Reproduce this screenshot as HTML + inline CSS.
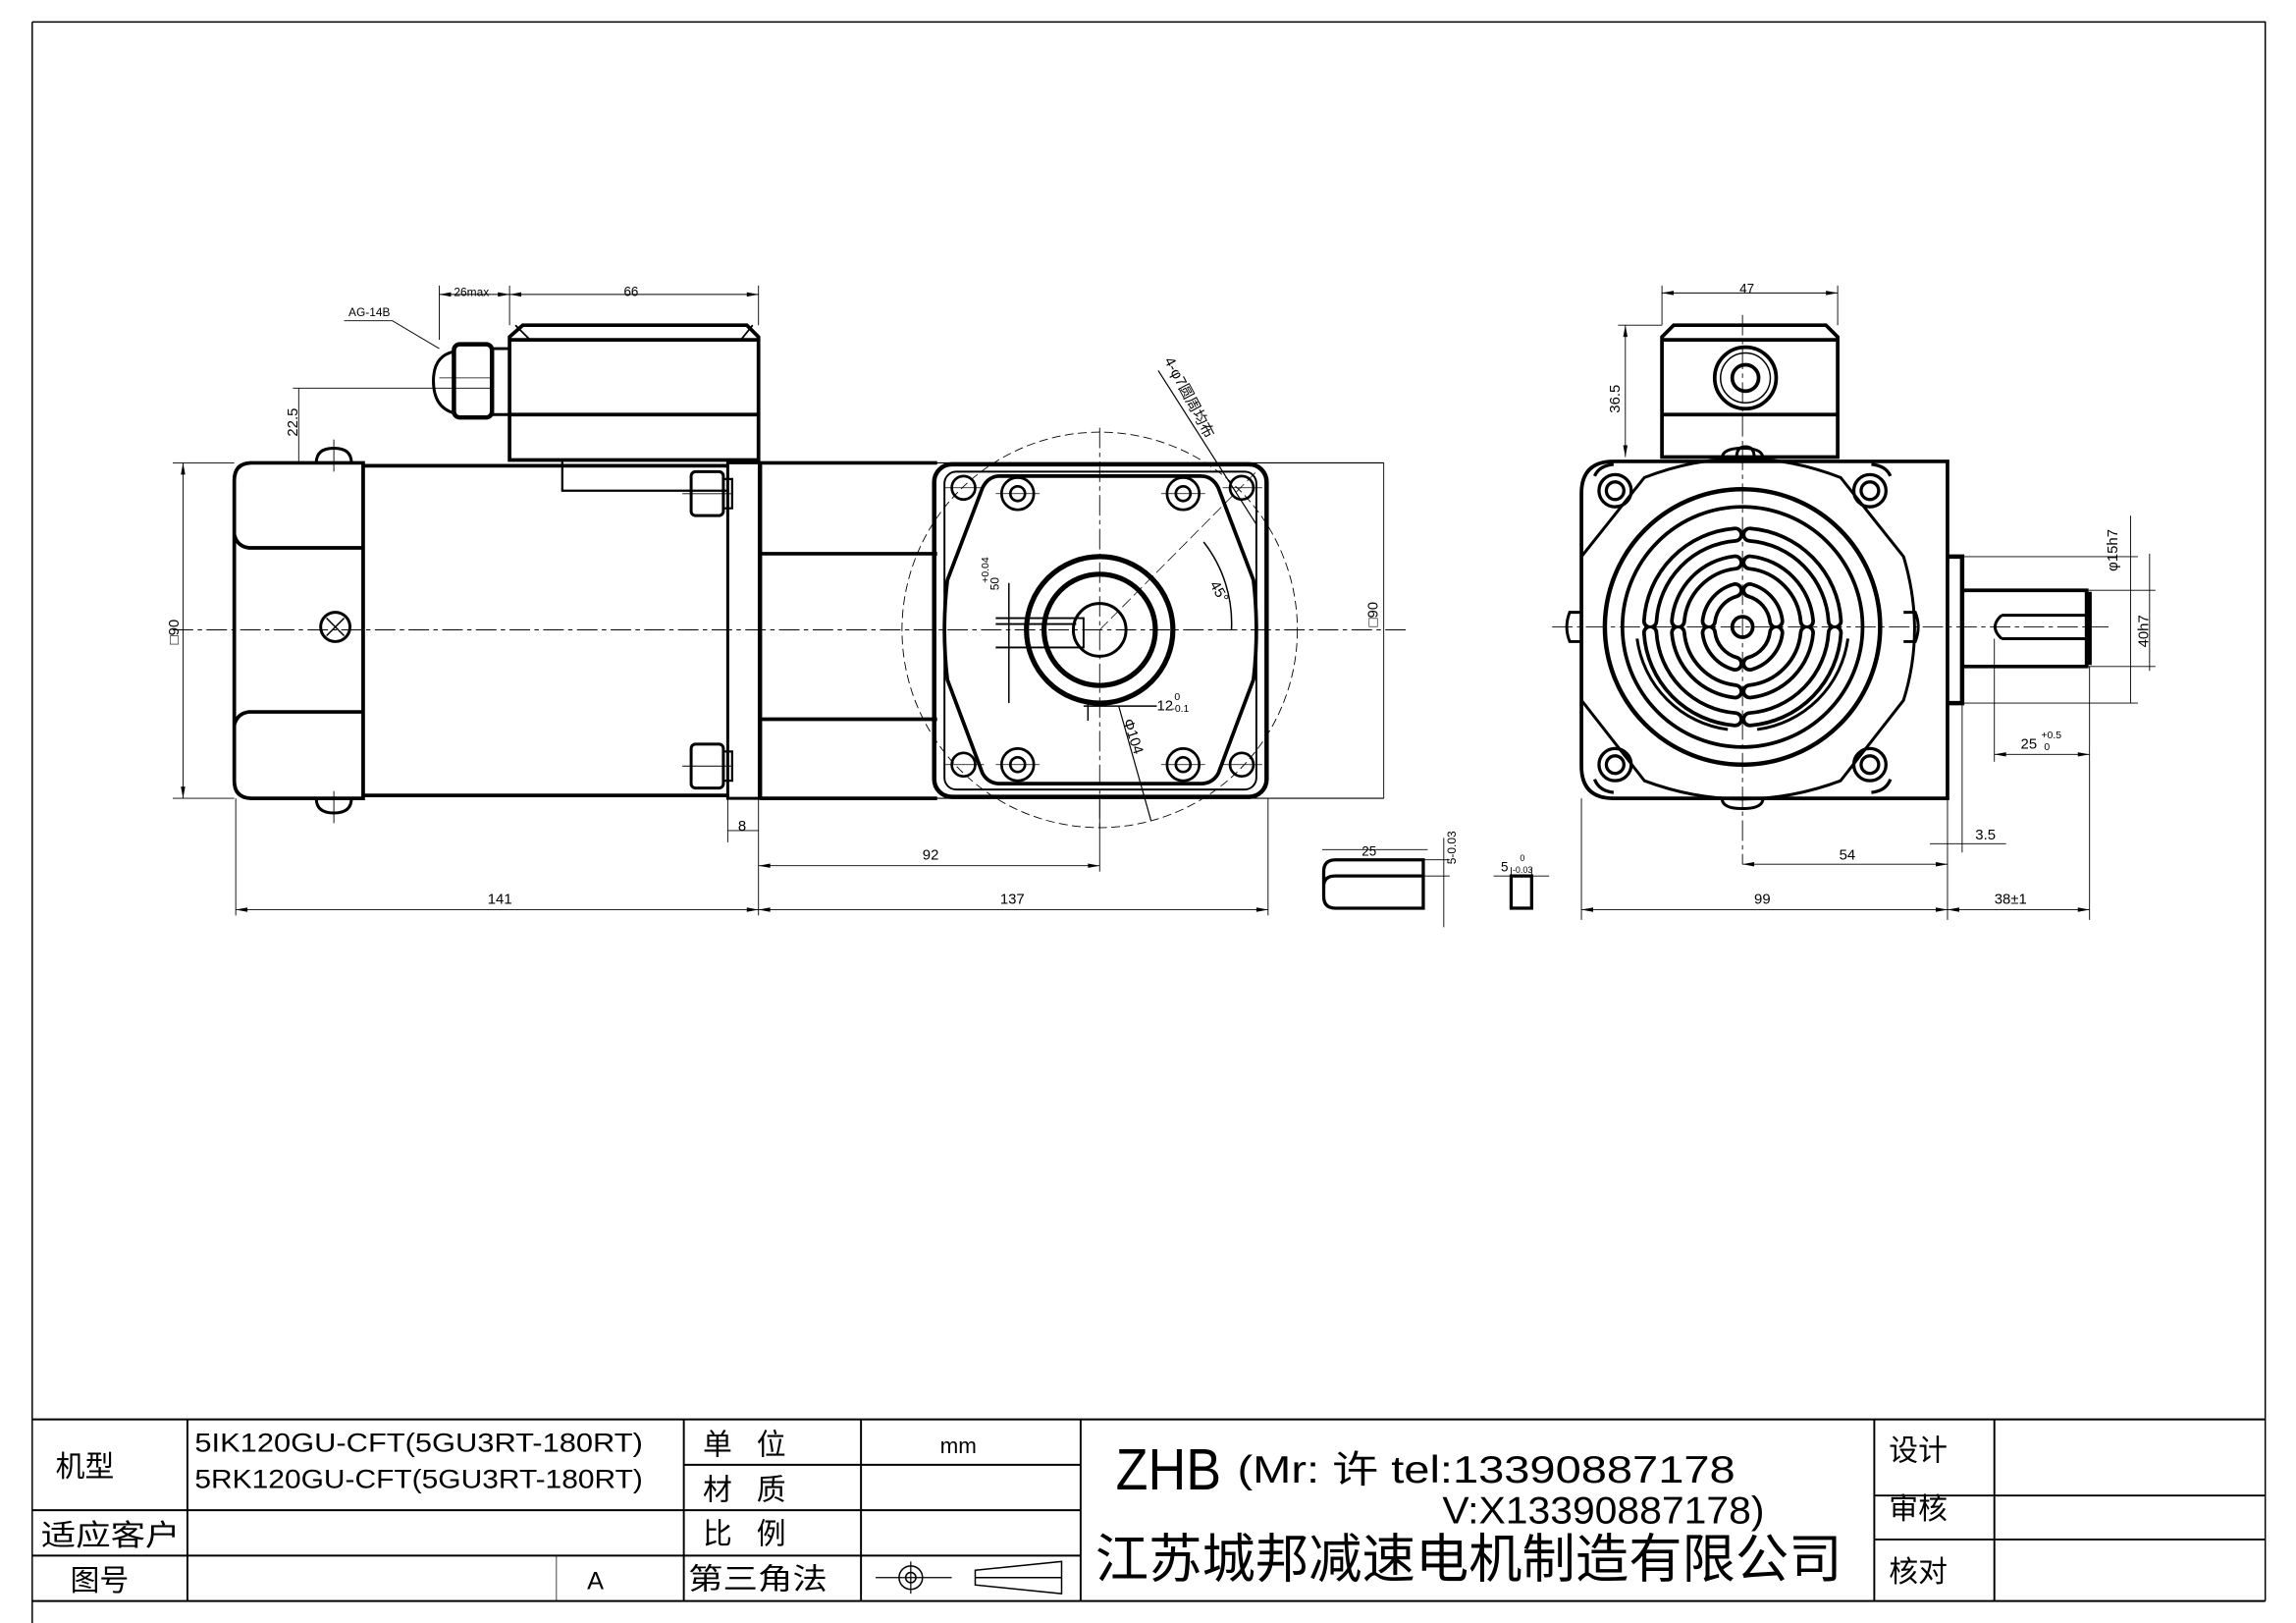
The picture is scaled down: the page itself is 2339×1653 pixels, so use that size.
<!DOCTYPE html>
<html><head><meta charset="utf-8"><style>
html,body{margin:0;padding:0;background:#fff}
svg{display:block}
text{font-family:"Liberation Sans","Noto Sans CJK SC",sans-serif;fill:#000}
</style></head><body>
<svg width="2339" height="1653" viewBox="0 0 1568 1108" preserveAspectRatio="none" xmlns="http://www.w3.org/2000/svg">
<g fill="none" stroke="#000">
<!-- frame -->
<path d="M22 15 H1547 V1093 M22 15 V1108" stroke-width="1"/>
<!-- title block -->
<g stroke-width="1.3">
<path d="M22 969 H1547 M22 1093 H1547"/>
<path d="M128 969 V1093 M467 969 V1093 M588 969 V1093 M738 969 V1093 M1280 969 V1093 M1362 969 V1093"/>
<path d="M467 1000 H738 M22 1031 H738 M22 1062 H738 M1280 1021 H1547 M1280 1051 H1547"/>
<path d="M380 1062 V1093" stroke-width="0.5"/>
</g>
<circle cx="622" cy="1077" r="8" stroke-width="1"/><circle cx="622" cy="1077" r="3.5" stroke-width="1"/>
<path d="M598 1077 H650 M622 1066 V1088" stroke-width="0.8"/>
<path d="M666 1072 L725 1066 V1088 L666 1082 Z M666 1077 H725" stroke-width="1"/>

<!-- ===== LEFT VIEW ===== -->
<path d="M118 430 H960" stroke-width="0.6" stroke-dasharray="14 3 3 3"/>
<!-- rear cover -->
<path d="M172 316 H248 V545 H172 Q160 545 160 533 V328 Q160 316 172 316 Z" stroke-width="2.5"/>
<path d="M160 365 Q162 373 170 374 H248 M160 495 Q162 487 170 486 H248" stroke-width="2.5"/>
<circle cx="229" cy="428" r="10" stroke-width="2"/>
<path d="M223 422 L235 434 M235 422 L223 434" stroke-width="1"/>
<path d="M216 316 Q216 306 228 306 Q240 306 240 316 Z M216 545 Q216 555 228 555 Q240 555 240 545 Z" stroke-width="2"/>
<path d="M228 300 V322 M228 540 V562" stroke-width="0.6"/>
<!-- body -->
<path d="M248 318 H497 M248 543 H497" stroke-width="2.5"/>
<path d="M384 314 V335 H497" stroke-width="1.5"/>
<rect x="472" y="322" width="22" height="30" rx="3" stroke-width="2"/>
<rect x="472" y="508" width="22" height="30" rx="3" stroke-width="2"/>
<path d="M494 327 H500 V347 H494 M494 513 H500 V533 H494" stroke-width="1.5"/>
<path d="M466 337 H500 M466 523 H500" stroke-width="0.6"/>
<!-- flange plate -->
<path d="M497 316 H519 V545 H497 Z" stroke-width="2"/>
<path d="M519 316 V545" stroke-width="3"/>
<!-- gearbox side -->
<path d="M519 316 H945 M519 545 H945" stroke-width="0.8"/>
<path d="M519 316 H640 M519 545 H640 M519 378 H640 M519 491 H640" stroke-width="2.5"/>
<!-- gearbox face -->
<rect x="638" y="317" width="227" height="227" rx="12" stroke-width="3"/>
<rect x="645" y="322" width="213" height="217" rx="8" stroke-width="1.3"/>
<path d="M683 325 H820 Q828 325 832 333 L856 396 Q860 430 856 464 L832 528 Q828 535 820 535 H683 Q675 535 671 528 L647 464 Q643 430 647 396 L671 333 Q675 325 683 325 Z" stroke-width="2.5"/>
<circle cx="751" cy="430" r="135" stroke-width="0.6" stroke-dasharray="6 3"/>
<path d="M751 292 V568" stroke-width="0.6" stroke-dasharray="14 3 3 3"/>
<circle cx="751" cy="430" r="50" stroke-width="3.5"/>
<circle cx="751" cy="430" r="38" stroke-width="3.5"/>
<circle cx="751" cy="430" r="18" stroke-width="2"/>
<path d="M680 422 H740 V442 H680 M680 426 H735" stroke-width="1.3"/>
<path d="M689 398 V480" stroke-width="1"/>
<g stroke-width="1.8">
<circle cx="658" cy="333" r="8"/><circle cx="848" cy="333" r="8"/><circle cx="658" cy="522" r="8"/><circle cx="848" cy="522" r="8"/>
<circle cx="695" cy="337" r="11"/><circle cx="808" cy="337" r="11"/><circle cx="695" cy="522" r="11"/><circle cx="808" cy="522" r="11"/>
<circle cx="695" cy="337" r="5"/><circle cx="808" cy="337" r="5"/><circle cx="695" cy="522" r="5"/><circle cx="808" cy="522" r="5"/>
</g>
<path d="M645 333 H672 M835 333 H862 M645 522 H672 M835 522 H862 M680 337 H710 M793 337 H823 M680 522 H710 M793 522 H823" stroke-width="0.5"/>
<path d="M751 430 L860 320" stroke-width="0.5" stroke-dasharray="8 3"/>
<path d="M822 370 A90 90 0 0 1 841 430" stroke-width="1"/>
<path d="M791 253 L858 358" stroke-width="0.8"/>
<path d="M740 482 H790 M743 478 V492" stroke-width="1"/>
<path d="M764 482 L786 560" stroke-width="0.8"/>
<!-- terminal box left -->
<path d="M348 314 V230 L357 222 H510 L518 230 V314 Z M348 283 H518 M348 232 H518" stroke-width="2.5"/>
<path d="M352 222 L362 232 M514 222 L506 232" stroke-width="1.2"/>
<path d="M336 238 H348 V283 H336 Z" stroke-width="2"/>
<rect x="310" y="235" width="26" height="50" rx="4" stroke-width="3"/>
<path d="M310 240 Q296 243 296 260 Q296 278 310 282" stroke-width="2"/>
<path d="M300 258 H336" stroke-width="0.5"/>
<!-- dimensions left -->
<g stroke-width="0.6">
<path d="M161 545 V625 M518 545 V625 M866 545 V625 M161 621 H866"/>
<path d="M751 545 V595 M518 591 H751"/>
<path d="M497 545 V575 M497 567 H518"/>
<path d="M300 195 V232 M348 195 V222 M518 195 V222 M300 201 H518"/>
<path d="M200 265 H335 M204 265 V316"/>
<path d="M118 316 H160 M118 545 H160 M125 316 V545"/>
<path d="M945 316 V545"/>
<path d="M235 219 H268 L300 238"/>
</g>
<!-- keys -->
<g stroke-width="2.2">
<path d="M912 587 H972 V620 H912 Q904 620 904 612 V595 Q904 587 912 587 Z M904 605 Q904 598 912 598 H972"/>
<rect x="1032" y="598" width="14" height="22"/>
</g>
<path d="M903 580 H975 M986 572 V633 M972 587 H990 M972 598 H990 M1030 598 H1048 M1032 592 V598 M1046 592 V598 M1020 598 H1032 M1046 598 H1058" stroke-width="0.6"/>

<!-- ===== RIGHT VIEW ===== -->
<path d="M1060 428 H1440 M1190 215 V590" stroke-width="0.6" stroke-dasharray="14 3 3 3"/>
<path d="M1102 315 H1330 V545 H1102 Q1080 545 1080 523 V337 Q1080 315 1102 315 Z" stroke-width="2.5"/>
<path d="M1080 380 L1123 326 Q1190 300 1257 326 L1300 380 Q1315 430 1300 478 L1257 533 Q1190 558 1123 533 L1080 478" stroke-width="2"/>
<g stroke-width="2.2">
<circle cx="1103" cy="335" r="11"/><circle cx="1277" cy="335" r="11"/><circle cx="1103" cy="522" r="11"/><circle cx="1277" cy="522" r="11"/>
<circle cx="1103" cy="335" r="6"/><circle cx="1277" cy="335" r="6"/><circle cx="1103" cy="522" r="6"/><circle cx="1277" cy="522" r="6"/>
<path d="M1089 325 Q1092 318 1102 317 M1291 325 Q1288 318 1278 317 M1089 532 Q1092 540 1102 541 M1291 532 Q1288 540 1278 541"/>
</g>
<circle cx="1190" cy="428" r="94" stroke-width="3"/>
<circle cx="1190" cy="428" r="82" stroke-width="2.5"/>
<circle cx="1190" cy="428" r="7" stroke-width="2.5"/>
<!-- grille slots -->
<g stroke-linecap="round">
<g stroke-width="11">
<path id="s" d="M1185 365 A63 63 0 0 0 1127 424 M1195 365 A63 63 0 0 1 1253 424 M1185 491 A63 63 0 0 1 1127 432 M1195 491 A63 63 0 0 0 1253 432 M1185 384 A44 44 0 0 0 1146 424 M1195 384 A44 44 0 0 1 1234 424 M1185 472 A44 44 0 0 1 1146 432 M1195 472 A44 44 0 0 0 1234 432 M1185 403 A25 25 0 0 0 1167 424 M1195 403 A25 25 0 0 1 1213 424 M1185 453 A25 25 0 0 1 1167 432 M1195 453 A25 25 0 0 0 1213 432"/>
</g>
<path d="M1185 365 A63 63 0 0 0 1127 424 M1195 365 A63 63 0 0 1 1253 424 M1185 491 A63 63 0 0 1 1127 432 M1195 491 A63 63 0 0 0 1253 432 M1185 384 A44 44 0 0 0 1146 424 M1195 384 A44 44 0 0 1 1234 424 M1185 472 A44 44 0 0 1 1146 432 M1195 472 A44 44 0 0 0 1234 432 M1185 403 A25 25 0 0 0 1167 424 M1195 403 A25 25 0 0 1 1213 424 M1185 453 A25 25 0 0 1 1167 432 M1195 453 A25 25 0 0 0 1213 432" stroke="#fff" stroke-width="6"/>
</g>
<path d="M1180 498 A72 72 0 0 1 1118 436 M1200 498 A72 72 0 0 0 1262 436" stroke-width="2"/>
<!-- side screws -->
<path d="M1080 418 H1072 Q1068 428 1072 438 H1080 M1300 418 H1308 Q1312 428 1308 438 H1300" stroke-width="2"/>
<path d="M1176 313 Q1176 306 1190 306 Q1204 306 1204 313 M1176 545 Q1176 552 1190 552 Q1204 552 1204 545" stroke-width="2"/>
<!-- shaft -->
<path d="M1330 380 H1340 V480 H1330" stroke-width="3"/>
<path d="M1340 403 H1425 V455 H1340 M1425 403 V455" stroke-width="2.5"/>
<path d="M1427 404 V454" stroke-width="3"/>
<path d="M1367 420 H1425 M1367 436 H1425 M1367 420 Q1358 428 1367 436" stroke-width="2"/>
<!-- terminal box right -->
<path d="M1135 312 V230 L1143 222 H1247 L1255 230 V312 Z M1135 283 H1255 M1135 232 H1255" stroke-width="2.5"/>
<circle cx="1192" cy="258" r="21" stroke-width="2.5"/><circle cx="1192" cy="258" r="17" stroke-width="1"/><circle cx="1192" cy="258" r="9" stroke-width="2.5"/>
<path d="M1186 312 Q1186 305 1192 305 Q1198 305 1198 312" stroke-width="2"/>
<!-- right dims -->
<g stroke-width="0.6">
<path d="M1135 195 V222 M1255 195 V222 M1135 200 H1255"/>
<path d="M1105 222 H1135 M1110 222 V312"/>
<path d="M1080 545 V628 M1330 545 V628 M1427 455 V628 M1080 621 H1427"/>
<path d="M1190 590 H1330 M1340 480 V582 M1318 576 H1370"/>
<path d="M1362 436 V520 M1362 515 H1427"/>
<path d="M1340 380 H1460 M1340 480 H1460 M1455 352 V480"/>
<path d="M1425 403 H1472 M1425 455 H1472 M1468 378 V458"/>
</g>
</g>
<!-- arrow heads (small) -->
<g fill="#000">
<path d="M161 621 l8 -1.5 v3 Z M518 621 l-8 -1.5 v3 Z M518 621 l8 -1.5 v3 Z M866 621 l-8 -1.5 v3 Z M518 591 l8 -1.5 v3 Z M751 591 l-8 -1.5 v3 Z M1080 621 l8 -1.5 v3 Z M1330 621 l-8 -1.5 v3 Z M1330 621 l8 -1.5 v3 Z M1427 621 l-8 -1.5 v3 Z M1190 590 l8 -1.5 v3 Z M1330 590 l-8 -1.5 v3 Z M1135 200 l8 -1.5 v3 Z M1255 200 l-8 -1.5 v3 Z M300 201 l8 -1.5 v3 Z M348 201 l-8 -1.5 v3 Z M348 201 l8 -1.5 v3 Z M518 201 l-8 -1.5 v3 Z M125 316 l-1.5 8 h3 Z M125 545 l-1.5 -8 h3 Z M1110 222 l-1.5 8 h3 Z M1110 312 l-1.5 -8 h3 Z M1362 515 l8 -1.5 v3 Z M1427 515 l-8 -1.5 v3 Z"/>
</g>
<!-- dimension text -->
<g font-size="10">
<text x="333" y="617">141</text><text x="683" y="617">137</text><text x="630" y="587">92</text>
<text x="504" y="567">8</text>
<text x="310" y="202" font-size="8">26max</text><text x="426" y="202" font-size="9">66</text>
<text x="238" y="216" font-size="8">AG-14B</text>
<text x="930" y="584" font-size="9">25</text>
<text x="1188" y="200" font-size="9">47</text>
<text x="1198" y="617">99</text><text x="1362" y="617">38±1</text><text x="1256" y="587">54</text>
<text x="1349" y="573">3.5</text>
<text x="1380" y="511">25</text><text x="1394" y="504" font-size="7">+0.5</text><text x="1396" y="512" font-size="7">0</text>
<text x="790" y="485">12</text><text x="802" y="478" font-size="7">0</text><text x="800" y="486" font-size="7">-0.1</text>
</g>
<g font-size="10">
<text transform="translate(122 440) rotate(-90)">□90</text>
<text transform="translate(941 428) rotate(-90)">□90</text>
<text transform="translate(203 298) rotate(-90)">22.5</text>
<text transform="translate(1106 282) rotate(-90)">36.5</text>
<text transform="translate(1446 390) rotate(-90)">φ15h7</text>
<text transform="translate(1467 442) rotate(-90)">40h7</text>
<text transform="translate(682 403) rotate(-90)" font-size="8">50</text>
<text transform="translate(675 398) rotate(-90)" font-size="7">+0.04</text>
<text transform="translate(767 492) rotate(72)">Φ104</text>
<text transform="translate(826 399) rotate(60)">45°</text>
<text transform="translate(795 246) rotate(62)">4-φ7圆周均布</text>
<text transform="translate(994 590) rotate(-90)" font-size="8">5-0.03</text>
<text x="1025" y="595" font-size="9">5</text><text x="1038" y="588" font-size="6">0</text><text x="1033" y="596" font-size="6">-0.03</text>
</g>
<!-- title block text -->
<g font-size="20">
<text x="38" y="1008">机型</text>
<text x="28" y="1055" textLength="95" lengthAdjust="spacingAndGlyphs">适应客户</text>
<text x="48" y="1086">图号</text>
<text x="133" y="991" font-size="18" textLength="306" lengthAdjust="spacingAndGlyphs">5IK120GU-CFT(5GU3RT-180RT)</text>
<text x="133" y="1016" font-size="18" textLength="306" lengthAdjust="spacingAndGlyphs">5RK120GU-CFT(5GU3RT-180RT)</text>
<text x="480" y="993">单&#160;&#160;&#160;位</text>
<text x="480" y="1024">材&#160;&#160;&#160;质</text>
<text x="480" y="1054">比&#160;&#160;&#160;例</text>
<text x="470" y="1085" textLength="95" lengthAdjust="spacingAndGlyphs">第三角法</text>
<text x="642" y="992" font-size="15">mm</text>
<text x="401" y="1085" font-size="17">A</text>
<text x="1290" y="997">设计</text>
<text x="1290" y="1037">审核</text>
<text x="1290" y="1080">核对</text>
<text x="762" y="1017" font-size="40" textLength="72" lengthAdjust="spacingAndGlyphs">ZHB</text>
<text x="845" y="1012" font-size="26" textLength="340" lengthAdjust="spacingAndGlyphs">(Mr: 许 tel:13390887178</text>
<text x="985" y="1040" font-size="26" textLength="220" lengthAdjust="spacingAndGlyphs">V:X13390887178)</text>
<text x="748" y="1077" font-size="36" textLength="510" lengthAdjust="spacingAndGlyphs">江苏城邦减速电机制造有限公司</text>
</g>
</svg>
</body></html>
